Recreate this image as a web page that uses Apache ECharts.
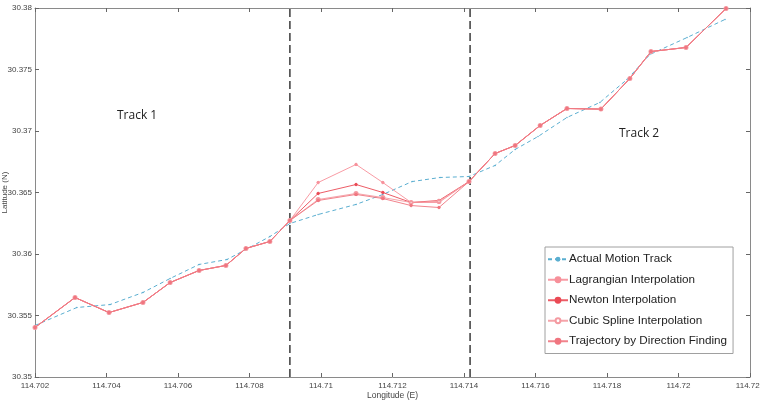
<!DOCTYPE html>
<html><head><meta charset="utf-8">
<script src="https://cdn.jsdelivr.net/npm/echarts@6/dist/echarts.min.js"></script>
<style>html,body{margin:0;padding:0;background:#fff}#c{width:760px;height:402px}</style>
</head><body><div id="c"></div>
<script>
const lonActual = [114.7020,114.70317,114.70410,114.70502,114.70578,114.70659,114.70737,114.70790,114.70857,114.70913,114.70992,114.71098,114.71173,114.71255,114.71333,114.71414,114.71487,114.71543,114.71607,114.71688,114.71780,114.71856,114.71920,114.72024,114.72130];
const latActual = [30.35419,30.35565,30.35589,30.35687,30.35801,30.35915,30.35955,30.36037,30.36142,30.36248,30.36321,30.36403,30.36484,30.36589,30.36622,30.36630,30.36720,30.36850,30.36955,30.37110,30.37232,30.37419,30.37622,30.37760,30.37907];
const lonTrack = [114.7020,114.70312,114.70407,114.70502,114.70578,114.70659,114.70734,114.70790,114.70857,114.70913,114.70992,114.71098,114.71173,114.71252,114.71330,114.71414,114.71487,114.71543,114.71613,114.71688,114.71783,114.71864,114.71923,114.72021,114.72133];
const latLagrange = [30.35403,30.35646,30.35524,30.35606,30.35768,30.35866,30.35907,30.36045,30.36102,30.36272,30.36581,30.36728,30.36581,30.36419,30.36419,30.36589,30.36817,30.36882,30.37045,30.37183,30.37178,30.37427,30.37646,30.37679,30.37996];
const latNewton = [30.35403,30.35646,30.35524,30.35606,30.35768,30.35866,30.35907,30.36045,30.36102,30.36272,30.36492,30.36565,30.36500,30.36419,30.36435,30.36589,30.36817,30.36882,30.37045,30.37183,30.37178,30.37427,30.37646,30.37679,30.37996];
const latSpline = [30.35403,30.35646,30.35524,30.35606,30.35768,30.35866,30.35907,30.36045,30.36102,30.36272,30.36443,30.36492,30.36459,30.36419,30.36427,30.36589,30.36817,30.36882,30.37045,30.37183,30.37178,30.37427,30.37646,30.37679,30.37996];
const latDirection = [30.35403,30.35646,30.35524,30.35606,30.35768,30.35866,30.35907,30.36045,30.36102,30.36272,30.36435,30.36484,30.36451,30.36394,30.36378,30.36589,30.36817,30.36882,30.37045,30.37183,30.37178,30.37427,30.37646,30.37679,30.37996];
const trackSplits = [114.70913, 114.71417];
const seriesNames = ['Actual Motion Track','Lagrangian Interpolation','Newton Interpolation','Cubic Spline Interpolation','Trajectory by Direction Finding'];
const trackLabels = ['Track 1','Track 2'];

const zip = (xs, ys) => xs.map((x, i) => [x, ys[i]]);
const fmt = v => parseFloat(Number(v).toFixed(3)).toString();
const axisLine = {show:true, lineStyle:{color:'#8a8a8a', width:1}};
const tick = {show:true, inside:true, length:4, lineStyle:{color:'#666'}};
const lbl = {color:'#444', fontSize:8, fontFamily:'Liberation Sans'};

const chart = echarts.init(document.getElementById('c'), null, {renderer:'canvas'});
function redSeries(name, lats, color, symbol, size, z) {
  return {name, type:'line', data: zip(lonTrack, lats), symbol, symbolSize:size,
    lineStyle:{color, width:1, opacity:0.9}, itemStyle:{color, borderColor:color, borderWidth:1}, z, animation:false};
}
chart.setOption({
  animation:false,
  grid:{left:35, right:10, top:8, bottom:25, containLabel:false, outerBoundsMode:'none'},
  xAxis:[
    {type:'value', min:114.702, max:114.722, interval:0.002, position:'bottom',
     axisLine, axisTick:tick, splitLine:{show:false}, axisLabel:{...lbl, formatter:fmt, margin:5},
     name:'Longitude (E)', nameLocation:'middle', nameGap:14, nameMoveOverlap:false,
     nameTextStyle:{color:'#444', fontSize:8.5, fontFamily:'Liberation Sans'}},
    {type:'value', min:114.702, max:114.722, interval:0.002, position:'top',
     axisLine, axisTick:tick, splitLine:{show:false}, axisLabel:{show:false}}
  ],
  yAxis:[
    {type:'value', min:30.35, max:30.38, interval:0.005, position:'left',
     axisLine, axisTick:tick, splitLine:{show:false}, axisLabel:{...lbl, formatter:fmt, margin:3},
     name:'Latitude (N)', nameLocation:'middle', nameGap:26, nameRotate:90, nameMoveOverlap:false,
     nameTextStyle:{color:'#444', fontSize:8, fontFamily:'Liberation Sans'}},
    {type:'value', min:30.35, max:30.38, interval:0.005, position:'right',
     axisLine, axisTick:tick, splitLine:{show:false}, axisLabel:{show:false}}
  ],
  legend:{
    data: seriesNames, orient:'vertical', left:545, top:247,
    backgroundColor:'#fff', borderColor:'#a0a0a0', borderWidth:1, borderRadius:0,
    padding:[5,6,5,2], itemGap:6, itemWidth:20, itemHeight:6,
    textStyle:{color:'#222', fontSize:11.7, lineHeight:14.5, fontFamily:'Liberation Sans', padding:[0,0,0,-4]}
  },
  graphic:[
    {type:'text', left:117, top:110, style:{text:trackLabels[0], fill:'#222', font:'12px "Open Sans"'}},
    {type:'text', left:619, top:128, style:{text:trackLabels[1], fill:'#222', font:'12px "Open Sans"'}}
  ],
  series:[
    {name:'split1', type:'line', data:[[trackSplits[0],30.35],[trackSplits[0],30.38]], symbol:'none',
     lineStyle:{color:'#3a3a3a', width:1.5, type:[8,4]}, silent:true, z:1},
    {name:'split2', type:'line', data:[[trackSplits[1],30.35],[trackSplits[1],30.38]], symbol:'none',
     lineStyle:{color:'#3a3a3a', width:1.5, type:[8,4]}, silent:true, z:1},
    {name:seriesNames[0], type:'line', data: zip(lonActual, latActual), symbol:'circle', symbolSize:1.5,
     lineStyle:{color:'#5aaed0', width:1, type:[4,3]}, itemStyle:{color:'#5aaed0'}, z:2},
    redSeries(seriesNames[1], latLagrange, '#f7909a', 'circle', 2.5, 3),
    redSeries(seriesNames[2], latNewton, '#ea4a55', 'circle', 2.5, 4),
    redSeries(seriesNames[3], latSpline, '#f49aa1', 'emptyCircle', 3, 5),
    redSeries(seriesNames[4], latDirection, '#f07680', 'circle', 2.5, 6)
  ]
});
</script></body></html>
